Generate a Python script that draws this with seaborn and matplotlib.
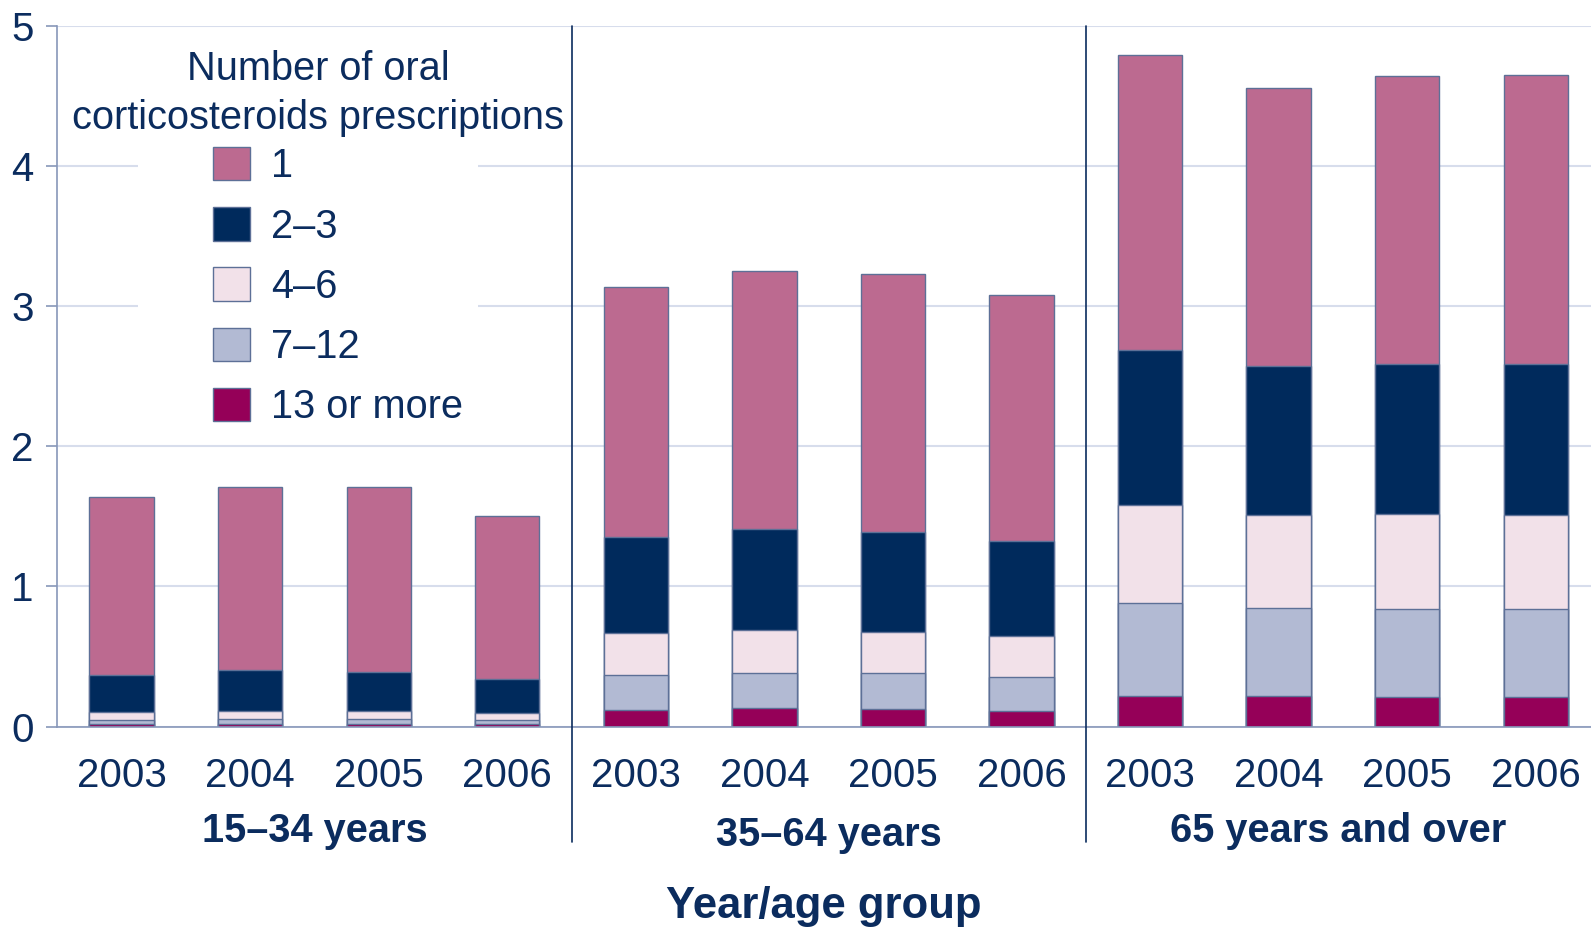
import numpy as np
import pandas as pd
import matplotlib
matplotlib.use("Agg")
import matplotlib.pyplot as plt
import matplotlib.transforms as mtransforms
from matplotlib.patches import Rectangle, Patch
import seaborn as sns

# ---------------- data ----------------
years = ["2003", "2004", "2005", "2006"]
age_groups = ["15\u201334 years", "35\u201364 years", "65 years and over"]
categories = ["1", "2\u20133", "4\u20136", "7\u201312", "13 or more"]

# segment heights, in order: 15-34 (2003..2006), 35-64 (2003..2006), 65+ (2003..2006)
seg_1 = [1.27, 1.31, 1.32, 1.16, 1.78, 1.84, 1.845, 1.755, 2.11, 1.99, 2.05, 2.06]
seg_2_3 = [0.27, 0.29, 0.28, 0.245, 0.69, 0.72, 0.71, 0.68, 1.105, 1.06, 1.07, 1.08]
seg_4_6 = [0.055, 0.06, 0.06, 0.05, 0.30, 0.31, 0.295, 0.29, 0.695, 0.665, 0.68, 0.67]
seg_7_12 = [0.03, 0.03, 0.03, 0.03, 0.245, 0.25, 0.255, 0.245, 0.665, 0.63, 0.63, 0.63]
seg_13 = [0.015, 0.02, 0.02, 0.015, 0.12, 0.13, 0.125, 0.11, 0.22, 0.215, 0.21, 0.21]

colors = ["#bc6a90", "#002a5c", "#f2e1e9", "#b2bad3", "#950058"]
edge_col = "#5d7097"
text_col = "#0b2c5e"
axis_col = "#8797b9"
grid_col = "#d7ddec"

# ---------------- frame ----------------
keys = [f"{g}|{y}" for g in age_groups for y in years]
seg_values = {
    "1": seg_1,
    "2\u20133": seg_2_3,
    "4\u20136": seg_4_6,
    "7\u201312": seg_7_12,
    "13 or more": seg_13,
}
rows = []
for cat in categories:
    for k, v in zip(keys, seg_values[cat]):
        rows.append({"key": k, "category": cat, "value": v})
df = pd.DataFrame(rows)
wide = df.pivot(index="key", columns="category", values="value").loc[keys, categories]
# cumulative from the bottom layer (13 or more) upwards
cum = wide[categories[::-1]].cumsum(axis=1)[categories]

# ---------------- plot ----------------
sns.set_theme(style="white")
plt.rcParams["font.family"] = ["Liberation Sans", "DejaVu Sans"]

FS = 28.6
W, H = 1591, 927
fig = plt.figure(figsize=(W / 100, H / 100), dpi=100)
ax_left, ax_right, ax_top, ax_bot = 57.3, 1591, 26, 726.5
ax = fig.add_axes([ax_left / W, 1 - ax_bot / H, (ax_right - ax_left) / W, (ax_bot - ax_top) / H])

for cat, col in zip(categories, colors):
    layer = pd.DataFrame({"key": keys, "cum": cum[cat].values})
    sns.barplot(data=layer, x="key", y="cum", order=keys, color=col,
                saturation=1, width=0.5, edgecolor=edge_col, linewidth=1.0,
                errorbar=None, ax=ax, zorder=2)

ax.set_xlim(-0.5, 11.43)
ax.set_ylim(0, 5)
ax.set_yticks([0, 1, 2, 3, 4, 5])
ax.set_xticks(range(len(keys)))
ax.set_xticklabels(years * len(age_groups))
ax.set_xlabel("")
ax.set_ylabel("")

ax.yaxis.grid(True, color=grid_col, linewidth=1.5, zorder=0.5)
ax.xaxis.grid(False)
ax.set_axisbelow(True)

for s in ["top", "right"]:
    ax.spines[s].set_visible(False)
for s in ["left", "bottom"]:
    ax.spines[s].set_color(axis_col)
    ax.spines[s].set_linewidth(1.2)
    ax.spines[s].set_zorder(3)

ax.tick_params(axis="x", length=0, pad=22, labelsize=29, labelcolor=text_col, bottom=False)
ax.tick_params(axis="y", length=8, width=1.2, color=axis_col, pad=9, labelsize=29,
               labelcolor=text_col, left=True, direction="out")

blend_xd_ya = mtransforms.blended_transform_factory(ax.transData, ax.transAxes)
blend_xa_yd = mtransforms.blended_transform_factory(ax.transAxes, ax.transData)

# white background patch behind legend (interrupts gridlines)
ax.add_patch(Rectangle((0.0526, 2.45), 0.2217, 2.1, transform=blend_xa_yd,
                       facecolor="white", edgecolor="none", zorder=0.8))

# group separators
sep_bottom = 1 - (841.7 - ax_top) / (ax_bot - ax_top)
bounds = [-0.5, 3.5, 7.5, 11.43]
for b in bounds[1:-1]:
    ax.plot([b, b], [1.0, sep_bottom], transform=blend_xd_ya, color=text_col,
            linewidth=1.2, clip_on=False, zorder=4)

# group labels
for i, g in enumerate(age_groups):
    cx = (bounds[i] + bounds[i + 1]) / 2
    base = 842.0 if i != 1 else 845.5
    ax.text(cx, 1 - (base - ax_top) / (ax_bot - ax_top), g, transform=blend_xd_ya,
            ha="center", va="baseline", fontsize=FS, fontweight="bold", color=text_col)

# axis title
fig.text((ax_left + ax_right) / 2 / W, 1 - 918 / H, "Year/age group", ha="center",
         va="baseline", fontsize=31.4, fontweight="bold", color=text_col)

# legend
handles = [Patch(facecolor=c, edgecolor=edge_col, linewidth=1.0) for c in colors]
leg = ax.legend(handles, categories, loc="upper left",
                bbox_to_anchor=(213 / W, 1 - 146.8 / H), bbox_transform=fig.transFigure,
                frameon=False, fontsize=FS, handlelength=0.92, handleheight=0.92,
                handletextpad=0.55, labelspacing=0.55, borderpad=0, borderaxespad=0,
                labelcolor=text_col)
fig.text(318 / W, 1 - 93.5 / H, "Number of oral\ncorticosteroids prescriptions",
         ha="center", va="center", fontsize=FS, color=text_col, linespacing=1.37)

fig.savefig("out.png", dpi=100)
